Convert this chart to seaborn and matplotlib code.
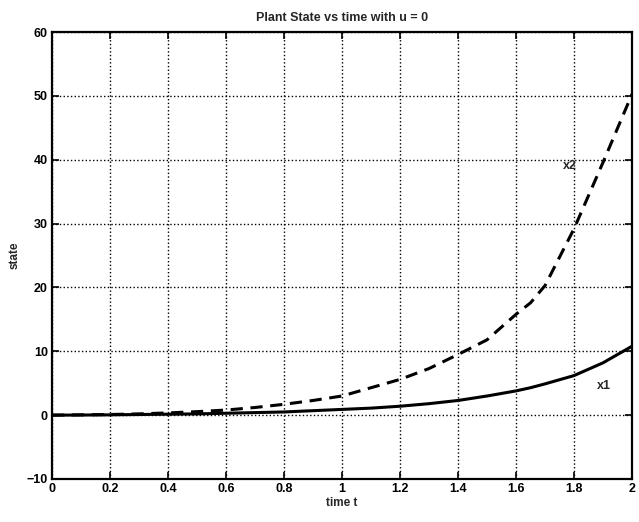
import numpy as np
import pandas as pd
import matplotlib
matplotlib.use("Agg")
import matplotlib.pyplot as plt
import seaborn as sns

# values
t = [0.0, 0.1, 0.2, 0.3, 0.4, 0.5, 0.6, 0.7, 0.8, 0.9, 1.0,
     1.1, 1.2, 1.3, 1.4, 1.5, 1.6, 1.65, 1.7, 1.8, 1.9, 2.0]
x1 = [0.0, 0.02, 0.05, 0.1, 0.15, 0.2, 0.3, 0.4, 0.5, 0.7, 0.9,
      1.1, 1.4, 1.8, 2.3, 3.0, 3.8, 4.3, 4.9, 6.2, 8.2, 10.8]
x2 = [0.0, 0.05, 0.1, 0.2, 0.35, 0.55, 0.8, 1.2, 1.7, 2.3, 3.0,
      4.3, 5.6, 7.3, 9.5, 11.8, 15.8, 17.6, 20.3, 29.2, 39.6, 50.3]
xticks = [0, 0.2, 0.4, 0.6, 0.8, 1, 1.2, 1.4, 1.6, 1.8, 2]
xticklabels = ["0", "0.2", "0.4", "0.6", "0.8", "1", "1.2", "1.4", "1.6", "1.8", "2"]
yticks = [-10, 0, 10, 20, 30, 40, 50, 60]

df = pd.DataFrame({"t": t * 2, "state": x1 + x2,
                   "series": ["x1"] * len(t) + ["x2"] * len(t)})

sns.set_theme(style="ticks")
plt.rcParams["font.family"] = ["Liberation Sans", "DejaVu Sans"]
plt.rcParams["font.weight"] = "bold"

fig = plt.figure(figsize=(6.39, 5.22), dpi=100)
ax = fig.add_axes([0.0814, 0.0824, 0.9077, 0.856])

sns.lineplot(data=df, x="t", y="state", style="series",
             dashes={"x1": "", "x2": (4, 2.5)}, color="black",
             linewidth=2.2, legend=False, ax=ax)

ax.set_xlim(0, 2)
ax.set_ylim(-10, 60)
ax.set_xticks(xticks)
ax.set_xticklabels(xticklabels)
ax.set_yticks(yticks)
ax.grid(True, linestyle=":", color="black", linewidth=1)
ax.tick_params(direction="in", length=5, width=1.2, top=True, right=True,
               labelsize=9, colors="black", pad=3)
for s in ax.spines.values():
    s.set_linewidth(1.6)
    s.set_color("black")

ax.set_title("Plant State vs time with u = 0", fontsize=9, fontweight="bold", pad=8)
ax.set_xlabel("time t", fontsize=8.5, fontweight="bold", labelpad=1)
ax.set_ylabel("state", fontsize=8.5, fontweight="bold", labelpad=4)

ax.text(1.76, 39, "x2", fontsize=9, fontweight="bold", va="center")
ax.text(1.88, 4.5, "x1", fontsize=9, fontweight="bold", va="center")

fig.savefig("out.png", dpi=100)
